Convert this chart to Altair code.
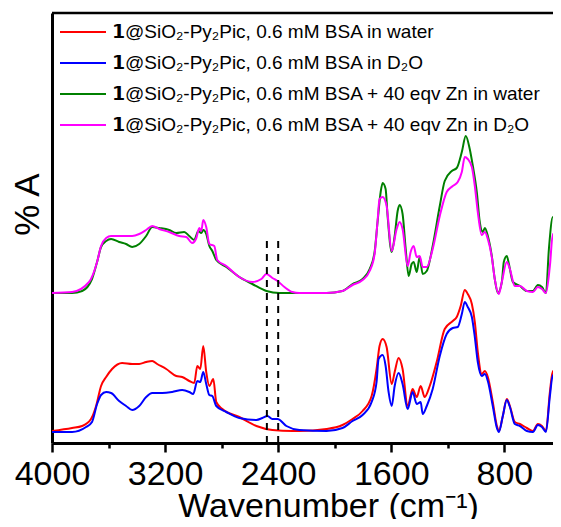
import altair as alt
import pandas as pd

labels = [
    "𝟭@SiO₂-Py₂Pic, 0.6 mM BSA in water",
    "𝟭@SiO₂-Py₂Pic, 0.6 mM BSA in D₂O",
    "𝟭@SiO₂-Py₂Pic, 0.6 mM BSA + 40 eqv Zn in water",
    "𝟭@SiO₂-Py₂Pic, 0.6 mM BSA + 40 eqv Zn in D₂O",
]
colors = ["#FF0000", "#0000FF", "#008000", "#FF00FF"]

red_wn = [4000, 3858, 3787, 3724, 3688, 3653, 3617, 3575, 3504, 3433, 3383, 3334, 3291, 3256, 3192,
          3121, 3079, 3029, 2994, 2972, 2951, 2930, 2909, 2887, 2859, 2838, 2795, 2675, 2554, 2441,
          2299, 2250, 2058, 1945, 1874, 1803, 1739, 1704, 1683, 1661, 1633, 1597, 1576, 1548, 1520,
          1484, 1449, 1420, 1392, 1364, 1328, 1279, 1222, 1165, 1137, 1109, 1080, 1059, 1030, 1009,
          988, 960, 938, 917, 882, 853, 839, 811, 783, 761, 726, 690, 641, 598, 563,
          534, 506, 478, 457, 428, 407]
red_a = [12, 15, 17, 24, 37, 57, 66, 74, 80, 79, 79, 81, 82, 79, 74,
         67, 66, 62, 60, 77, 74, 97, 71, 57, 64, 41, 34, 26, 17, 13,
         12, 12, 14, 18, 24, 32, 47, 74, 97, 104, 96, 59, 71, 85, 74,
         37, 54, 46, 57, 46, 57, 81, 114, 122, 126, 137, 153, 149, 139, 121,
         91, 69, 72, 66, 41, 17, 12, 27, 44, 37, 21, 19, 15, 12, 19,
         17, 12, 51, 72, 64, 34]

blue_wn = [4000, 3858, 3759, 3717, 3681, 3653, 3617, 3582, 3525, 3476, 3433, 3383, 3334, 3291, 3220,
           3150, 3079, 3029, 3001, 2972, 2951, 2930, 2909, 2887, 2866, 2838, 2767, 2675, 2554, 2512,
           2476, 2441, 2405, 2342, 2250, 2058, 1945, 1874, 1803, 1739, 1704, 1690, 1661, 1640, 1619,
           1597, 1576, 1548, 1520, 1484, 1449, 1420, 1392, 1378, 1349, 1307, 1257, 1208, 1165, 1130,
           1101, 1080, 1059, 1030, 1009, 988, 960, 938, 917, 882, 853, 839, 811, 783, 761,
           726, 690, 641, 598, 563, 534, 506, 478, 457, 428, 407]
blue_a = [11, 11, 16, 21, 39, 48, 51, 50, 42, 37, 33, 37, 46, 50, 50,
          51, 53, 51, 49, 62, 61, 71, 59, 48, 47, 37, 31, 25, 23, 25,
          27, 24, 24, 17, 13, 12, 15, 22, 28, 41, 61, 84, 88, 77, 51,
          37, 57, 70, 59, 34, 51, 39, 41, 29, 37, 54, 87, 109, 115, 116,
          129, 141, 136, 126, 106, 81, 67, 69, 62, 37, 15, 11, 27, 43, 36,
          19, 17, 12, 11, 18, 16, 11, 47, 68, 59, 31]

green_wn = [4000, 3858, 3787, 3717, 3681, 3653, 3617, 3582, 3525, 3476, 3433, 3383, 3334, 3291, 3242,
            3171, 3121, 3065, 3029, 2994, 2965, 2944, 2930, 2909, 2887, 2866, 2838, 2767, 2675, 2583,
            2483, 2391, 2250, 2058, 1945, 1874, 1803, 1753, 1718, 1697, 1675, 1661, 1640, 1626, 1597,
            1576, 1555, 1541, 1520, 1498, 1477, 1456, 1442, 1420, 1399, 1378, 1349, 1307, 1257, 1222,
            1172, 1137, 1101, 1073, 1045, 1023, 995, 974, 953, 938, 917, 889, 868, 846, 818,
            804, 783, 768, 740, 690, 641, 598, 563, 534, 506, 485, 457, 428, 407]
green_a = [150, 150, 152, 164, 181, 196, 202, 204, 201, 199, 196, 199, 207, 216, 215,
           213, 210, 211, 207, 203, 212, 210, 213, 209, 197, 192, 183, 176, 166, 159,
           152, 150, 150, 150, 152, 159, 164, 174, 191, 221, 251, 260, 254, 227, 191,
           207, 232, 238, 229, 194, 167, 179, 181, 171, 186, 169, 172, 197, 237, 262,
           272, 275, 291, 307, 294, 277, 251, 221, 211, 215, 207, 187, 164, 150, 161,
           181, 187, 179, 161, 157, 152, 152, 158, 156, 150, 194, 226, 214, 171]

magenta_wn = [4000, 3858, 3738, 3681, 3653, 3617, 3582, 3525, 3476, 3433, 3383, 3334, 3291, 3242, 3171,
              3100, 3050, 3008, 2979, 2958, 2944, 2930, 2909, 2887, 2852, 2831, 2767, 2675, 2583, 2519,
              2483, 2441, 2405, 2356, 2299, 2250, 2058, 1945, 1874, 1803, 1753, 1718, 1697, 1683, 1661,
              1633, 1597, 1562, 1541, 1520, 1484, 1463, 1442, 1420, 1399, 1378, 1349, 1307, 1257, 1208,
              1165, 1130, 1101, 1080, 1059, 1030, 1009, 988, 960, 938, 917, 889, 868, 839, 818,
              783, 761, 726, 690, 641, 598, 563, 534, 506, 478, 457, 428, 407]
magenta_a = [150, 151, 161, 181, 197, 205, 207, 207, 207, 207, 209, 213, 217, 214, 211,
             207, 206, 200, 205, 215, 212, 223, 216, 199, 197, 183, 177, 166, 161, 164,
             169, 165, 162, 156, 151, 150, 150, 152, 158, 163, 172, 189, 222, 244, 246,
             237, 192, 214, 221, 214, 177, 191, 197, 186, 187, 176, 176, 194, 227, 251,
             257, 261, 271, 286, 284, 276, 257, 231, 208, 211, 204, 186, 164, 149, 161,
             181, 174, 157, 157, 152, 151, 156, 154, 150, 177, 209, 201, 167]

dash_wn = [2480, 2400]
dash_top = 202
y_max = 430
x_min, x_max = 456, 4000
x_ticks = [4000, 3600, 3200, 2800, 2400, 2000, 1600, 1200, 800]

frames = []
for lab, wn, a in zip(labels, [red_wn, blue_wn, green_wn, magenta_wn],
                      [red_a, blue_a, green_a, magenta_a]):
    frames.append(pd.DataFrame({"series": lab, "wn": wn, "A": a}))
df = pd.concat(frames, ignore_index=True)

FONT = "Liberation Sans"
x_scale = alt.Scale(domain=[x_min, x_max], reverse=True, nice=False, zero=False)
y_scale = alt.Scale(domain=[0, y_max], nice=False, zero=False)

x_axis = alt.Axis(
    title="Wavenumber (cm⁻¹)",
    values=x_ticks,
    labelExpr="datum.value % 800 === 0 ? format(datum.value, 'd') : ''",
    tickSize={"condition": {"test": "datum.value % 800 === 0", "value": 9}, "value": 5},
    tickWidth=2.5,
    domainWidth=3,
    labelFontSize=34,
    labelFont=FONT,
    labelFlush=False,
    labelOverlap=False,
    labelPadding=5,
    titleFontSize=34,
    titleFont=FONT,
    titleFontWeight="normal",
    titleX=276,
    titleY=73,
    titleAlign="center",
    titleBaseline="alphabetic",
    grid=False,
)
y_axis = alt.Axis(
    title="% A",
    labels=False,
    ticks=False,
    domainWidth=3,
    titleFontSize=35,
    titleFont=FONT,
    titleFontWeight="normal",
    titleX=-14,
    titleY=191,
    titleAlign="center",
    titleBaseline="alphabetic",
    grid=False,
)

lines = alt.Chart(df).mark_line(strokeWidth=2, interpolate="monotone", clip=True).encode(
    x=alt.X("wn:Q", scale=x_scale, axis=x_axis),
    y=alt.Y("A:Q", scale=y_scale, axis=y_axis),
    color=alt.Color(
        "series:N",
        scale=alt.Scale(domain=labels, range=colors),
        sort=labels,
        legend=alt.Legend(
            orient="none", legendX=20, legendY=8, title=None,
            symbolType="M-2.3,0H2.3", symbolSize=400, symbolStrokeWidth=2,
            labelFontSize=19, labelFont=FONT, labelLimit=700, labelOffset=18,
            labelColor="black", rowPadding=10, padding=0,
        ),
    ),
    order=alt.Order("wn:Q"),
)

dash_df = pd.DataFrame({"wn": dash_wn, "top": [dash_top] * len(dash_wn), "bottom": [0] * len(dash_wn)})
dashes = alt.Chart(dash_df).mark_rule(color="black", strokeWidth=2, strokeDash=[7, 6]).encode(
    x=alt.X("wn:Q", scale=x_scale, axis=x_axis),
    y=alt.Y("bottom:Q", scale=y_scale, axis=y_axis),
    y2="top:Q",
)

top_df = pd.DataFrame({"v": [y_max]})
top_rule = alt.Chart(top_df).mark_rule(color="black", strokeWidth=2.5).encode(
    y=alt.Y("v:Q", scale=y_scale, axis=y_axis),
)

chart = alt.layer(lines, dashes, top_rule).properties(
    width=501, height=430,
    autosize=alt.AutoSizeParams(type="none"),
    padding={"left": 44, "top": 5, "right": 0, "bottom": 76},
    background="white",
).configure_view(strokeWidth=0).configure_axis(
    domainColor="black", tickColor="black", labelColor="black", titleColor="black"
)

chart.save("out.html", embed_options={"renderer": "svg", "actions": False})
